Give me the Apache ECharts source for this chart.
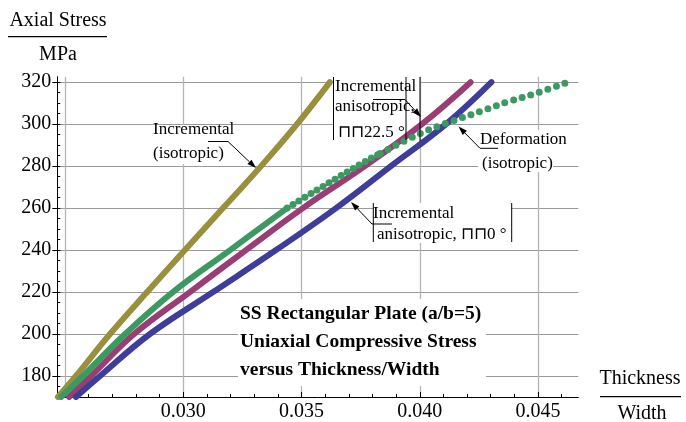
<!DOCTYPE html>
<html><head><meta charset="utf-8">
<script src="https://cdn.jsdelivr.net/npm/echarts@6/dist/echarts.min.js"></script>
<style>html,body{margin:0;padding:0;background:#fff}#c{width:686px;height:422px}</style>
</head><body><div id="c"></div>
<script>
// ---- data ----
const stressLevels = [170, 180, 200, 220, 240, 260, 280, 300, 320];
const incIsoX      = [0.02470, 0.02546, 0.02690, 0.02847, 0.03007, 0.03168, 0.03329, 0.03481, 0.03620];
const incAniso225X = [0.02517, 0.02610, 0.02792, 0.03028, 0.03265, 0.03506, 0.03768, 0.04009, 0.04215];
const incAniso0X   = [0.02546, 0.02648, 0.02859, 0.03126, 0.03392, 0.03646, 0.03878, 0.04111, 0.04303];
const deformX = [0.02483, 0.02576, 0.02754, 0.02956, 0.03198, 0.03439, 0.03735, 0.03832, 0.04001, 0.04114, 0.04255, 0.04382, 0.04500, 0.04628];
const deformY = [170, 180, 200, 220, 240, 260, 280, 286, 295.5, 300.5, 306, 311, 315, 320];

const xMajorTicks = [0.025, 0.030, 0.035, 0.040, 0.045];
const xTickLabels = [0.030, 0.035, 0.040, 0.045];
const xMinorTicks = [0.025, 0.026, 0.027, 0.028, 0.029, 0.030, 0.031, 0.032, 0.033, 0.034, 0.035, 0.036,
                     0.037, 0.038, 0.039, 0.040, 0.041, 0.042, 0.043, 0.044, 0.045, 0.046];
const yMajorTicks = [180, 200, 220, 240, 260, 280, 300, 320];
const yMinorTicks = [175, 180, 185, 190, 195, 200, 205, 210, 215, 220, 225, 230, 235, 240, 245, 250, 255,
                     260, 265, 270, 275, 280, 285, 290, 295, 300, 305, 310, 315, 320];

const colBlue = '#3e3d99', colMag = '#993d74', colOlive = '#99903d', colGreen = '#3d9962';
const FONT = "'Liberation Serif','Times New Roman',serif";

function pairs(xs, ys) { return xs.map((x, i) => [x, ys[i]]); }
const deformPts = pairs(deformX, deformY);

const chart = echarts.init(document.getElementById('c'), null, {renderer: 'canvas'});

const X_MIN = 0.024672, X_MAX = 0.046704, Y_MIN = 170, Y_MAX = 322.6;

function lineSeries(data, color, extra) {
  return Object.assign({
    type: 'line', data: data, showSymbol: false, smooth: 0.4,
    lineStyle: {color: color, width: 6, cap: 'round', join: 'round'}, animation: false, silent: true
  }, extra || {});
}

function arrow(pts, z) {
  const n = pts.length, tip = pts[n - 1], prev = pts[n - 2];
  let dx = tip[0] - prev[0], dy = tip[1] - prev[1];
  const L = Math.hypot(dx, dy); dx /= L; dy /= L;
  const hl = 9, hw = 3;
  const bx = tip[0] - dx * hl, by = tip[1] - dy * hl;
  return [
    {type: 'polyline', z: z, shape: {points: pts.slice(0, n - 1).concat([[bx, by]])}, style: {stroke: '#000', lineWidth: 1, fill: null}},
    {type: 'polygon', z: z, shape: {points: [tip, [bx - dy * hw, by + dx * hw], [bx + dy * hw, by - dx * hw]]}, style: {fill: '#000'}}
  ];
}
function txt(s, x, y, size, opts) {
  return {type: 'text', z: 4, x: x, y: y,
    style: {text: s, font: (opts && opts.bold ? 'bold ' : '') + size + 'px ' + FONT, fill: '#000',
      textAlign: (opts && opts.align) || 'left', textVerticalAlign: 'middle'}};
}
function rect(x, y, w, h) { return {type: 'rect', z: 1, shape: {x: x, y: y, width: w, height: h}, style: {fill: '#fff'}}; }
function vline(x, y1, y2) { return {type: 'line', z: 4, shape: {x1: x, y1: y1, x2: x, y2: y2}, style: {stroke: '#000', lineWidth: 1}}; }
function hline(x1, x2, y, w) { return {type: 'line', z: 4, shape: {x1: x1, y1: y, x2: x2, y2: y}, style: {stroke: '#000', lineWidth: w || 1}}; }

const graphics = [].concat(
  // white label backgrounds
  rect(151, 125, 86, 39), rect(334, 77, 86, 65), rect(478, 130, 75, 42), rect(373, 203, 138, 40), rect(238, 299, 248, 87),
  // axis titles
  txt('Axial Stress', 58, 21, 20, {align: 'center'}), hline(8, 107, 36.7, 1.2), txt('MPa', 58, 55, 20, {align: 'center'}),
  txt('Thickness', 640, 379, 20, {align: 'center'}), hline(600, 681, 396.7, 1.2), txt('Width', 642, 414, 20, {align: 'center'}),
  // plot title block
  txt('SS Rectangular Plate (a/b=5)', 240, 314, 19.5, {bold: true}),
  txt('Uniaxial Compressive Stress', 240, 342, 19.5, {bold: true}),
  txt('versus Thickness/Width', 240, 370, 19.5, {bold: true}),
  // label: Incremental (isotropic)
  txt('Incremental', 153, 130, 17), txt('(isotropic)', 153, 154, 17),
  arrow([[208, 141.5], [228, 141.5], [256, 168]], 4),
  // label: Incremental anisotropic 22.5
  vline(333.5, 77, 140), vline(406, 77, 140), vline(420, 77, 141),
  txt('Incremental', 335, 87, 17), txt('anisotropic,', 335, 107, 17), txt('⊓⊓22.5 °', 338, 133, 17),
  arrow([[373, 99.5], [405, 99.5], [421, 117]], 4),
  // label: Deformation (isotropic)
  txt('Deformation', 480, 140, 17), txt('(isotropic)', 482, 164, 17),
  arrow([[498, 148.3], [480, 148.3], [458.5, 126.5]], 4),
  // label: Incremental anisotropic 0
  vline(373.3, 203, 242), vline(511.7, 203, 242),
  txt('Incremental', 373, 214, 17), txt('anisotropic, ⊓⊓0 °', 377, 235, 17),
  arrow([[392, 224], [372, 224], [351, 202]], 4)
);

const axisLabelStyle = {color: '#000', fontFamily: FONT, fontSize: 20};

chart.setOption({
  animation: false,
  backgroundColor: '#fff',
  grid: {left: 57.3, right: 107.7, top: 76.7, bottom: 25, containLabel: false, outerBoundsMode: 'none'},
  xAxis: [
    {type: 'value', min: X_MIN, max: X_MAX, position: 'bottom', z: 0,
     axisLine: {show: true, onZero: false, lineStyle: {color: '#000', width: 1}},
     axisTick: {show: true, inside: true, length: 5, customValues: xMajorTicks, lineStyle: {color: '#000'}},
     axisLabel: {show: true, customValues: xTickLabels, margin: 5, formatter: v => v.toFixed(3), ...axisLabelStyle},
     splitLine: {show: true, lineStyle: {color: '#b4b4b4', width: 1.3}}},
    {type: 'value', min: X_MIN, max: X_MAX, position: 'bottom',
     axisLine: {show: false, onZero: false},
     axisTick: {show: true, inside: true, length: 3, customValues: xMinorTicks, lineStyle: {color: '#000'}},
     axisLabel: {show: false}, splitLine: {show: false}}
  ],
  yAxis: [
    {type: 'value', min: Y_MIN, max: Y_MAX, position: 'left',
     axisLine: {show: true, onZero: false, lineStyle: {color: '#000', width: 1}},
     axisTick: {show: true, inside: false, length: 5, customValues: yMajorTicks, lineStyle: {color: '#000'}},
     axisLabel: {show: true, customValues: yMajorTicks, margin: 6, ...axisLabelStyle},
     splitLine: {show: true, lineStyle: {color: '#9a9a9a', width: 1}}},
    {type: 'value', min: Y_MIN, max: Y_MAX, position: 'left',
     axisLine: {show: false, onZero: false},
     axisTick: {show: true, inside: true, length: 3, customValues: yMinorTicks, lineStyle: {color: '#000'}},
     axisLabel: {show: false}, splitLine: {show: false}}
  ],
  series: [
    lineSeries(pairs(incIsoX, stressLevels), colOlive),
    lineSeries(pairs(incAniso225X, stressLevels), colMag),
    lineSeries(pairs(incAniso0X, stressLevels), colBlue),
    lineSeries(deformPts.slice(0, 6), colGreen, {z: 3}),
    lineSeries(deformPts.slice(5, 8), colGreen, {z: 3, lineStyle: {color: colGreen, width: 7, cap: 'round', type: [0, 7]}}),
    lineSeries(deformPts.slice(7), colGreen, {z: 3, lineStyle: {color: colGreen, width: 7, cap: 'round', type: [0, 9]}})
  ],
  graphic: {elements: graphics}
});
</script></body></html>
